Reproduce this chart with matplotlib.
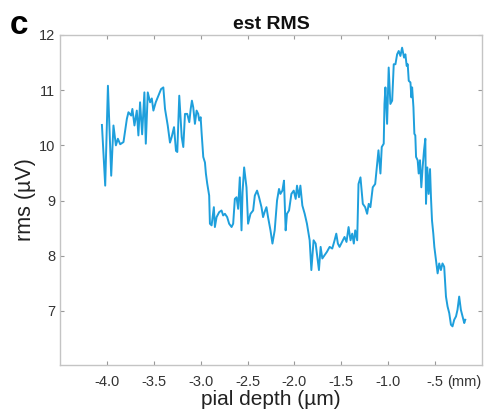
import matplotlib
matplotlib.use("Agg")
import matplotlib.pyplot as plt

plt.rcParams['font.family'] = ['Liberation Sans', 'DejaVu Sans']

# estimated RMS along the probe, pial depth in mm
depth = [
    -4.053, -4.018, -3.989, -3.954, -3.930, -3.904, -3.883, -3.858, -3.823, -3.787,
    -3.770, -3.741, -3.728, -3.706, -3.681, -3.664, -3.646, -3.624, -3.600, -3.585,
    -3.564, -3.539, -3.521, -3.504, -3.479, -3.451, -3.422, -3.398, -3.380, -3.351,
    -3.327, -3.309, -3.284, -3.263, -3.249, -3.228, -3.202, -3.185, -3.167, -3.143,
    -3.121, -3.106, -3.093, -3.079, -3.061, -3.043, -3.026, -3.015, -3.000, -2.989,
    -2.972, -2.954, -2.944, -2.930, -2.909, -2.901, -2.883, -2.859, -2.848, -2.830,
    -2.802, -2.777, -2.760, -2.741, -2.717, -2.696, -2.670, -2.653, -2.635, -2.617,
    -2.600, -2.582, -2.564, -2.553, -2.536, -2.511, -2.494, -2.468, -2.440, -2.422,
    -2.398, -2.377, -2.351, -2.334, -2.316, -2.298, -2.281, -2.255, -2.234, -2.210,
    -2.185, -2.164, -2.149, -2.128, -2.111, -2.093, -2.079, -2.057, -2.032, -2.007,
    -1.986, -1.972, -1.951, -1.936, -1.915, -1.890, -1.866, -1.837, -1.819, -1.795,
    -1.773, -1.755, -1.738, -1.720, -1.702, -1.678, -1.653, -1.624, -1.596, -1.571,
    -1.553, -1.536, -1.518, -1.500, -1.483, -1.465, -1.444, -1.422, -1.401, -1.383,
    -1.366, -1.351, -1.330, -1.316, -1.295, -1.270, -1.245, -1.224, -1.207, -1.189,
    -1.164, -1.138, -1.117, -1.103, -1.082, -1.068, -1.047, -1.039, -1.029, -1.011,
    -0.994, -0.976, -0.957, -0.940, -0.922, -0.904, -0.887, -0.869, -0.851, -0.830,
    -0.816, -0.802, -0.791, -0.780, -0.762, -0.752, -0.744, -0.730, -0.720, -0.710,
    -0.702, -0.685, -0.674, -0.660, -0.646, -0.632, -0.617, -0.603, -0.596, -0.582,
    -0.568, -0.553, -0.543, -0.532, -0.518, -0.507, -0.489, -0.472, -0.455, -0.437,
    -0.420, -0.402, -0.383, -0.366, -0.348, -0.330, -0.313, -0.295, -0.276, -0.260,
    -0.242, -0.224, -0.206, -0.188, -0.177,
]
rms = [
    10.37, 9.27, 11.08, 9.45, 10.36, 10.00, 10.12, 10.02, 10.06, 10.48,
    10.60, 10.54, 10.66, 10.36, 10.63, 10.18, 10.78, 10.20, 10.96, 10.03,
    10.96, 10.78, 10.85, 10.63, 10.78, 10.90, 11.02, 11.05, 10.66, 10.36,
    10.05, 10.15, 10.33, 9.90, 9.88, 10.90, 10.15, 9.97, 10.57, 10.57,
    10.42, 10.66, 10.81, 10.69, 10.39, 10.63, 10.57, 10.45, 10.51, 10.21,
    9.79, 9.69, 9.49, 9.31, 9.09, 8.58, 8.55, 8.88, 8.52, 8.70,
    8.79, 8.82, 8.73, 8.76, 8.70, 8.58, 8.52, 8.58, 9.03, 9.06,
    8.85, 9.42, 8.46, 9.15, 9.60, 9.24, 8.58, 8.76, 8.82, 9.09,
    9.18, 9.06, 8.88, 8.70, 8.80, 8.88, 8.70, 8.46, 8.22, 8.46,
    9.00, 9.21, 9.12, 9.18, 9.36, 8.46, 8.76, 8.82, 9.12, 9.18,
    9.03, 9.27, 9.06, 9.27, 8.91, 8.76, 8.58, 8.28, 7.74, 8.28,
    8.22, 7.98, 7.74, 8.16, 7.95, 8.01, 8.07, 8.16, 8.13, 8.28,
    8.40, 8.22, 8.16, 8.22, 8.28, 8.34, 8.25, 8.52, 8.28, 8.40,
    8.22, 8.46, 8.28, 9.30, 9.42, 8.94, 8.88, 8.76, 8.94, 8.88,
    9.24, 9.30, 9.66, 9.91, 9.49, 9.97, 10.03, 10.75, 11.05, 10.39,
    11.41, 10.75, 10.81, 11.47, 11.47, 11.65, 11.71, 11.62, 11.77, 11.59,
    11.65, 11.44, 11.47, 11.17, 11.14, 10.87, 11.05, 10.69, 10.21, 10.18,
    9.79, 9.73, 9.49, 9.73, 9.24, 9.60, 9.91, 10.12, 8.94, 9.60,
    9.12, 9.57, 9.06, 8.64, 8.40, 8.16, 7.92, 7.68, 7.86, 7.74,
    7.86, 7.80, 7.26, 7.08, 6.96, 6.75, 6.72, 6.84, 6.90, 7.02,
    7.26, 7.02, 6.90, 6.78, 6.84,
]

x_ticks = [-4.0, -3.5, -3.0, -2.5, -2.0, -1.5, -1.0, -0.5]
x_ticklabels = ['-4.0', '-3.5', '-3.0', '-2.5', '-2.0', '-1.5', '-1.0', '-.5']
x_unit = '(mm)'
y_ticks = [7, 8, 9, 10, 11, 12]

fig = plt.figure(figsize=(4.86, 4.15), dpi=100)
ax = fig.add_axes([0.1235, 0.1205, 0.868, 0.7952])

ax.plot(depth, rms, color='#1e9fdc', linewidth=1.4)

ax.set_xlim(-4.5, 0.0)
ax.set_ylim(6.02, 12.0)
ax.set_xticks(x_ticks)
ax.set_xticklabels(x_ticklabels)
ax.set_yticks(y_ticks)

spine_col = '#c4c4c4'
for s in ax.spines.values():
    s.set_color(spine_col)
    s.set_linewidth(1.0)
tick_fs = 10.5
ax.tick_params(direction='in', length=3, width=0.8, color='#999999',
               labelsize=tick_fs, labelcolor='#333333', top=True, right=True)
ax.tick_params(axis='x', pad=7)
ax.tick_params(axis='y', pad=3.5)

# unit trailing the last depth tick label
ax.annotate(x_unit, xy=(x_ticks[-1], 0), xycoords=('data', 'axes fraction'),
            xytext=(9, -7), textcoords='offset points', ha='left', va='top',
            fontsize=tick_fs, color='#333333')

ax.set_xlabel('pial depth (\u00b5m)', fontsize=15, color='#222222', labelpad=1)
ax.set_ylabel('rms (\u00b5V)', fontsize=15.5, color='#222222', labelpad=2)
ax.set_title('est RMS', fontsize=14, fontweight='bold', color='#111111', pad=4)

fig.text(0.021, 0.918, 'c', fontsize=24, fontweight='bold', color='black',
         ha='left', va='baseline')

fig.savefig('out.png', dpi=100)
